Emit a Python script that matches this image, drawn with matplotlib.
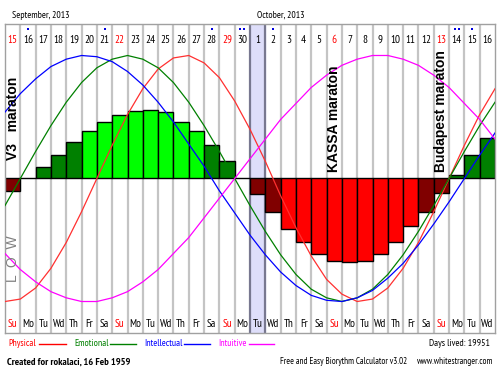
import matplotlib
matplotlib.use('Agg')
import matplotlib.pyplot as plt
from matplotlib.lines import Line2D

# one column per day, 15 Sep 2013 .. 16 Oct 2013
day_numbers = list(range(15, 31)) + list(range(1, 17))
weekdays = ['Su', 'Mo', 'Tu', 'Wd', 'Th', 'Fr', 'Sa'] * 4 + ['Su', 'Mo', 'Tu', 'Wd']
month_labels = ['September, 2013', 'October, 2013']
month_start_cols = [0, 16]

# combined bar per day (percent of full curve amplitude)
bar_values = [-10, 0, 9, 19, 30, 39, 46, 52, 55, 56, 54, 46, 39, 27, 14, 0,
              -13, -27, -41, -52, -61, -67, -68, -67, -61, -52, -39, -27, -12, 3, 19, 33]

# curves, read at the start of each day (33 points, -1 .. 1)
physical = [-1.00, -0.98, -0.89, -0.73, -0.52, -0.27, 0.00, 0.27, 0.52, 0.73, 0.89,
            0.98, 1.00, 0.94, 0.82, 0.63, 0.40, 0.14, -0.14, -0.40, -0.63, -0.82,
            -0.94, -1.00, -0.98, -0.89, -0.73, -0.52, -0.27, 0.00, 0.27, 0.52, 0.73]
emotional = [-0.22, 0.00, 0.22, 0.43, 0.62, 0.78, 0.90, 0.97, 1.00, 0.97, 0.90,
             0.78, 0.62, 0.43, 0.22, 0.00, -0.22, -0.43, -0.62, -0.78, -0.90, -0.97,
             -1.00, -0.97, -0.90, -0.78, -0.62, -0.43, -0.22, 0.00, 0.22, 0.43, 0.62]
intellectual = [0.54, 0.69, 0.81, 0.91, 0.97, 1.00, 0.99, 0.95, 0.87, 0.76, 0.62,
                0.46, 0.28, 0.10, -0.10, -0.28, -0.46, -0.62, -0.76, -0.87, -0.95, -0.99,
                -1.00, -0.97, -0.91, -0.81, -0.69, -0.54, -0.37, -0.19, 0.00, 0.19, 0.37]
intuitive = [-0.61, -0.74, -0.84, -0.92, -0.97, -1.00, -1.00, -0.97, -0.92, -0.84, -0.74,
             -0.61, -0.48, -0.32, -0.16, 0.00, 0.16, 0.32, 0.48, 0.61, 0.74, 0.84,
             0.92, 0.97, 1.00, 1.00, 0.97, 0.92, 0.84, 0.74, 0.61, 0.48, 0.32]

# critical day markers: column -> number of dots
dots = {1: 1, 6: 1, 13: 1, 15: 2, 17: 1, 29: 2, 30: 1}
events = [(0, 'V3   maraton', 0.15), (21, 'KASSA maraton', 0.053), (28, 'Budapest maraton', 0.053)]
today_col = 16
days_lived = 19951
person = 'rokalaci, 16 Feb 1959'

narrow = ['PT Sans Narrow', 'Liberation Sans', 'DejaVu Sans']
W, H = 500, 380


def yv(py):
    # pixel row -> value on the chart axis
    return (178.5 - py) / 123.0


def fx(px):
    return px / W


def fy(py):
    return 1 - py / H


fig = plt.figure(figsize=(5, 3.8), dpi=100)
ax = fig.add_axes([fx(5), fy(333), 490 / W, 309 / H])
ax.set_xlim(0, 32)
ax.set_ylim(-1.256, 1.256)
ax.set_xticks([])
ax.set_yticks([])
for s in ax.spines.values():
    s.set_color('#a0a0a0')
    s.set_linewidth(1)

ax.axvspan(today_col, today_col + 1, color='#dedefa', zorder=0)
for i in range(1, 32):
    c = '#787890' if i in (today_col, today_col + 1) else '#c4c4c4'
    ax.axvline(i, color=c, lw=1.6, zorder=1)

cols = []
for v in bar_values:
    if v >= 35:
        cols.append('#00ff00')
    elif v >= 0:
        cols.append('#008000')
    elif v <= -35:
        cols.append('#ff0000')
    else:
        cols.append('#800000')
xs = [i + 0.5 for i in range(32)]
ax.bar(xs, [v / 100 for v in bar_values], width=1, color=cols,
       edgecolor='black', linewidth=1, zorder=2)

xd = list(range(33))
ax.plot(xd, physical, color='#ff3030', lw=0.9, zorder=3)
ax.plot(xd, emotional, color='#008000', lw=0.9, zorder=3)
ax.plot(xd, intellectual, color='#0000ff', lw=0.9, zorder=3)
ax.plot(xd, intuitive, color='#ff00ff', lw=0.9, zorder=3)

for col, label, yb in events:
    ax.text(col + 0.5, yb, label, rotation=90, ha='center', va='bottom',
            fontsize=10, fontweight='bold', family='Liberation Sans', zorder=5)
ax.text(0.5, yv(258.5), 'L  O  W', rotation=90, ha='center', va='center',
        fontsize=10, color='#808080', family='Liberation Sans', zorder=5)

for i in range(32):
    red = weekdays[i] == 'Su'
    ax.text(i + 0.5, yv(40), str(day_numbers[i]), ha='center', va='center',
            fontsize=8, color='red' if red else 'black', family=narrow)
    ax.text(i + 0.5, yv(324), weekdays[i], ha='center', va='center',
            fontsize=8, color='red' if red else 'black', family=narrow)
for col, n in dots.items():
    offs = [0] if n == 1 else [-0.13, 0.13]
    for o in offs:
        ax.plot(col + 0.5 + o, yv(29.5), 's', ms=1.8, color='#0000dd', mew=0)

for lab, col in zip(month_labels, month_start_cols):
    fig.text(fx(12 + col * 15.31), fy(15), lab, ha='left', va='center',
             fontsize=7, family=narrow)

legend = [('Physical', '#ff0000', 8, 39, 66),
          ('Emotional', '#008000', 74, 110, 136),
          ('Intellectual', '#0000ff', 144, 184, 210),
          ('Intuitive', '#ff00ff', 218, 249, 274)]
for lab, c, tx, l0, l1 in legend:
    fig.text(fx(tx), fy(344), lab, color=c, ha='left', va='center',
             fontsize=7, family=narrow)
    fig.add_artist(Line2D([fx(l0), fx(l1)], [fy(344), fy(344)], color=c, lw=1))
fig.text(fx(490), fy(344), 'Days lived: %d' % days_lived, ha='right', va='center',
         fontsize=7, family=narrow)
fig.text(fx(7), fy(362), 'Created for ' + person, ha='left', va='center',
         fontsize=7.5, fontweight='bold', family=narrow)
fig.text(fx(280), fy(362), 'Free and Easy Biorythm Calculator v3.02', ha='left',
         va='center', fontsize=6.6, family=narrow)
fig.text(fx(493), fy(362), 'www.whitestranger.com', ha='right', va='center',
         fontsize=6.6, family=narrow)

fig.savefig('out.png', dpi=100)
